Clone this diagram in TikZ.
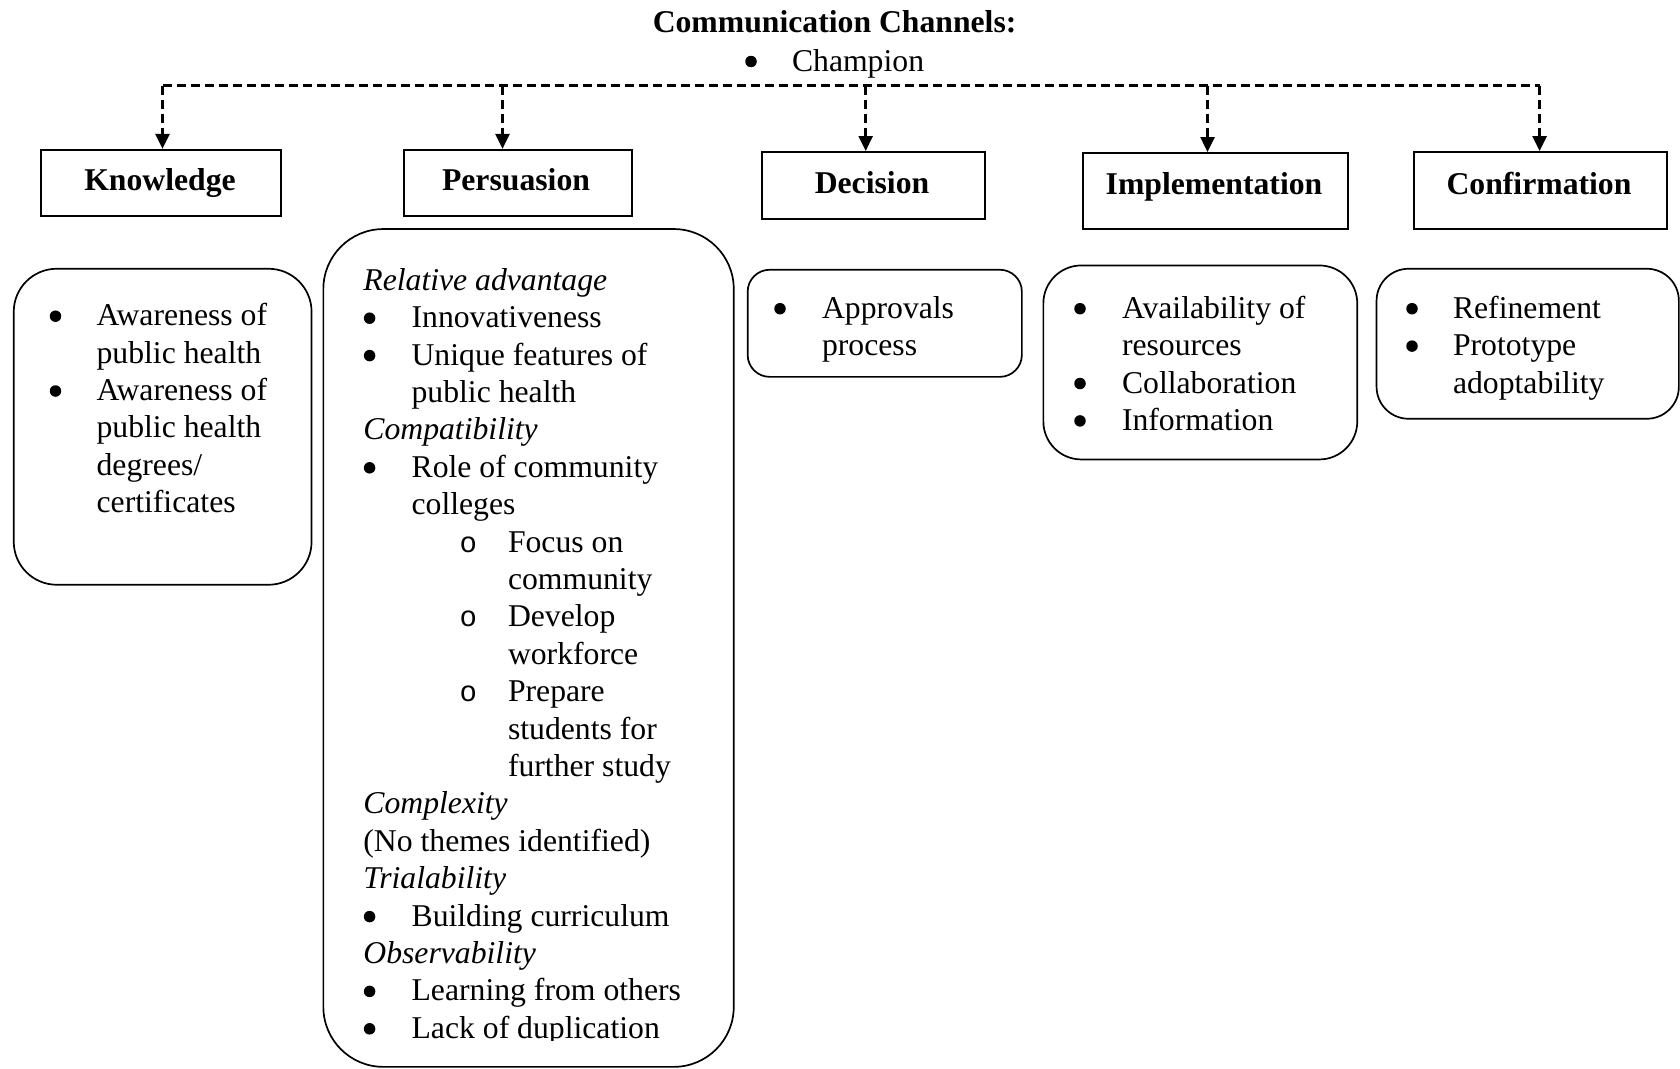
\documentclass[tikz,border=0pt]{standalone}
\usepackage{fontspec}
\setmainfont{Liberation Serif}
\newfontfamily\bulmono{Liberation Mono}
\usetikzlibrary{arrows.meta}
\newcommand\mytl[4]{\node[txt] (#1) at (#2,#3) {#4};}
\newcommand\mybul[3]{\node[bulc] (#1) at (#2,#3-9.5) {};}
\newcommand\myobul[3]{\node[obul] (#1) at (#2,#3) {o};}
\tikzset{
  txt/.style={inner sep=0pt, anchor=base west, font=\fontsize{31.7}{37.4}\selectfont},
  bulc/.style={circle, fill=black, draw=none, inner sep=0pt, minimum size=11.5pt},
  obul/.style={inner sep=0pt, anchor=base, font=\fontsize{29}{37.4}\selectfont\bulmono},
  head/.style={inner sep=0pt, anchor=base, font=\fontsize{31.7}{37.4}\selectfont\bfseries},
  hbox/.style={draw, line width=2pt, inner sep=0pt, anchor=north west},
  rbox/.style={draw, line width=1.7pt, inner sep=0pt, anchor=north west},
  dashline/.style={dash pattern=on 9pt off 5pt, line width=2.6pt},
  arr/.style={dashline, -{Triangle[length=15pt,width=14pt]}}
}
\begin{document}
\begin{tikzpicture}[x=1pt,y=-1pt]
\useasboundingbox (0,0) rectangle (1680,1068);
% title
\node[head] (title) at (834.6,32) {Communication Channels:};
\mybul{champb}{751}{71}
\mytl{champ}{791.8}{71}{Champion}
% dashed distribution line
\coordinate (c1) at (162.5,85.5);
\coordinate (c2) at (502.5,85.5);
\coordinate (c3) at (865.7,85.5);
\coordinate (c4) at (1207.5,85.5);
\coordinate (c5) at (1539.6,85.5);
% stage boxes
\node[hbox, minimum width=240pt, minimum height=66.5pt] (know) at (39.6,148.9) {};
\node[hbox, minimum width=228.2pt, minimum height=66.5pt] (pers) at (402.8,148.9) {};
\node[hbox, minimum width=222.8pt, minimum height=66.5pt] (deci) at (760.7,151) {};
\node[hbox, minimum width=264.7pt, minimum height=76.2pt] (impl) at (1082,152) {};
\node[hbox, minimum width=252.8pt, minimum height=77.2pt] (conf) at (1413.2,151) {};
\node[head] (knowT) at (160,190.7) {Knowledge};
\node[head] (persT) at (516,190.7) {Persuasion};
\node[head] (deciT) at (872,193) {Decision};
\node[head] (implT) at (1214,194) {Implementation};
\node[head] (confT) at (1539,194) {Confirmation};
\draw[dashline] (c1) -- (c5);
\draw[arr] (c1) -- (c1 |- know.north);
\draw[arr] (c2) -- (c2 |- pers.north);
\draw[arr] (c3) -- (c3 |- deci.north);
\draw[arr] (c4) -- (c4 |- impl.north);
\draw[arr] (c5) -- (c5 |- conf.north);
% content boxes
\node[rbox, rounded corners=43pt, minimum width=297.8pt, minimum height=316pt] (kc) at (12.9,267.9) {};
\node[rbox, rounded corners=60pt, minimum width=410.4pt, minimum height=837.8pt] (pc) at (322.5,228.2) {};
\node[rbox, rounded corners=22pt, minimum width=274.2pt, minimum height=107.1pt] (dc) at (746.8,268.9) {};
\node[rbox, rounded corners=38pt, minimum width=313.9pt, minimum height=194pt] (ic) at (1042.5,264.6) {};
\node[rbox, rounded corners=32pt, minimum width=302.3pt, minimum height=150pt] (cc) at (1375.7,267.9) {};
% knowledge content
\mybul{kb1}{55.5}{325.7}
\mytl{k1}{96.4}{325.7}{Awareness of}
\mytl{k2}{96.4}{363.1}{public health}
\mybul{kb2}{55.5}{400.5}
\mytl{k3}{96.4}{400.5}{Awareness of}
\mytl{k4}{96.4}{437.9}{public health}
\mytl{k5}{96.4}{475.3}{degrees/}
\mytl{k6}{96.4}{512.7}{certificates}
% persuasion content
\mytl{p0}{363.2}{290.3}{\itshape Relative advantage}
\mybul{pb1}{369.6}{327.7}
\mytl{p1}{411.4}{327.7}{Innovativeness}
\mybul{pb2}{369.6}{365.1}
\mytl{p2}{411.4}{365.1}{Unique features of}
\mytl{p3}{411.4}{402.5}{public health}
\mytl{p4}{363.2}{439.9}{\itshape Compatibility}
\mybul{pb5}{369.6}{477.3}
\mytl{p5}{411.4}{477.3}{Role of community}
\mytl{p6}{411.4}{514.7}{colleges}
\myobul{po7}{468.3}{552.1}
\mytl{p7}{507.8}{552.1}{Focus on}
\mytl{p8}{507.8}{589.5}{community}
\myobul{po9}{468.3}{626.9}
\mytl{p9}{507.8}{626.9}{Develop}
\mytl{p10}{507.8}{664.3}{workforce}
\myobul{po11}{468.3}{701.7}
\mytl{p11}{507.8}{701.7}{Prepare}
\mytl{p12}{507.8}{739.1}{students for}
\mytl{p13}{507.8}{776.5}{further study}
\mytl{p14}{363.2}{813.9}{\itshape Complexity}
\mytl{p15}{363.2}{851.3}{(No themes identified)}
\mytl{p16}{363.2}{888.7}{\itshape Trialability}
\mybul{pb17}{369.6}{926.1}
\mytl{p17}{411.4}{926.1}{Building curriculum}
\mytl{p18}{363.2}{963.5}{\itshape Observability}
\mybul{pb19}{369.6}{1000.9}
\mytl{p19}{411.4}{1000.9}{Learning from others}
\begin{scope}
\clip (330,1005) rectangle (725,1040.5);
\mybul{pb20}{369.6}{1038.3}
\mytl{p20}{411.4}{1038.3}{Lack of duplication}
\end{scope}
% decision content
\mybul{db1}{780}{318.2}
\mytl{d1}{821.8}{318.2}{Approvals}
\mytl{d2}{821.8}{355.6}{process}
% implementation content
\mybul{ib1}{1080}{318.2}
\mytl{i1}{1121.8}{318.2}{Availability of}
\mytl{i2}{1121.8}{355.6}{resources}
\mybul{ib3}{1080}{393}
\mytl{i3}{1121.8}{393}{Collaboration}
\mybul{ib4}{1080}{430.4}
\mytl{i4}{1121.8}{430.4}{Information}
% confirmation content
\mybul{cb1}{1412}{318.2}
\mytl{cf1}{1452.8}{318.2}{Refinement}
\mybul{cb2}{1412}{355.6}
\mytl{cf2}{1452.8}{355.6}{Prototype}
\mytl{cf3}{1452.8}{393}{adoptability}
\end{tikzpicture}
\end{document}
